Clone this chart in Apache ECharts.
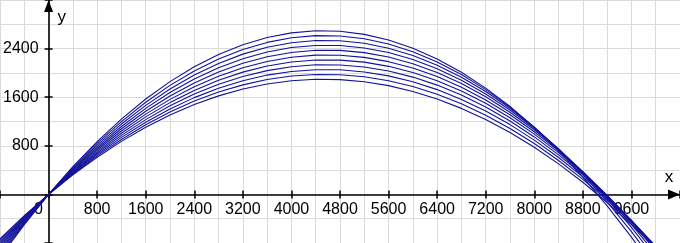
<!DOCTYPE html>
<html>
<head>
<meta charset="utf-8">
<script src="https://cdn.jsdelivr.net/npm/echarts@6/dist/echarts.min.js"></script>
<style>
html,body{margin:0;padding:0;background:#fff;}
#chart{width:680px;height:243px;}
</style>
</head>
<body>
<div id="chart"></div>
<script>
// x positions at which each curve was read
const XS = [-800, -400, 0, 400, 800, 1200, 1600, 2000, 2400, 2800, 3200, 3600, 4000, 4400, 4800, 5200, 5600, 6000, 6400, 6800, 7200, 7600, 8000, 8400, 8800, 9200, 9600, 10000, 10400];
// y values of the eleven curves (lowest arc to highest arc)
const curve40 = [-731, -350, 0, 321, 612, 873, 1105, 1307, 1479, 1622, 1735, 1818, 1872, 1896, 1890, 1855, 1790, 1695, 1570, 1416, 1232, 1018, 775, 502, 200, -133, -495, -886, -1308];
const curve41 = [-757, -363, 0, 332, 634, 905, 1146, 1356, 1536, 1685, 1803, 1891, 1948, 1974, 1970, 1936, 1871, 1775, 1648, 1491, 1304, 1086, 837, 558, 248, -93, -464, -865, -1298];
const curve42 = [-783, -376, 0, 344, 657, 939, 1188, 1406, 1593, 1748, 1872, 1964, 2024, 2053, 2051, 2016, 1951, 1854, 1725, 1564, 1372, 1149, 894, 608, 289, -60, -441, -854, -1298];
const curve43 = [-811, -389, 0, 357, 681, 972, 1231, 1458, 1652, 1813, 1942, 2038, 2102, 2133, 2131, 2097, 2030, 1931, 1799, 1635, 1438, 1208, 946, 651, 324, -36, -428, -853, -1311];
const curve44 = [-840, -403, 0, 369, 705, 1007, 1276, 1511, 1712, 1879, 2013, 2113, 2179, 2212, 2211, 2177, 2108, 2006, 1871, 1702, 1499, 1262, 992, 688, 350, -21, -426, -864, -1337];
const curve45 = [-870, -417, 0, 383, 730, 1043, 1321, 1564, 1773, 1946, 2085, 2189, 2258, 2292, 2291, 2256, 2185, 2080, 1940, 1765, 1555, 1311, 1031, 717, 368, -16, -435, -889, -1377];
const curve46 = [-901, -432, 0, 396, 756, 1080, 1368, 1620, 1835, 2015, 2158, 2266, 2337, 2372, 2371, 2334, 2261, 2152, 2006, 1825, 1607, 1353, 1064, 738, 376, -22, -457, -927, -1433];
const curve47 = [-933, -448, 0, 410, 783, 1118, 1416, 1677, 1899, 2085, 2233, 2344, 2417, 2452, 2451, 2411, 2335, 2220, 2069, 1880, 1653, 1389, 1088, 749, 372, -41, -493, -981, -1507];
const curve48 = [-966, -464, 0, 425, 811, 1158, 1466, 1735, 1965, 2156, 2309, 2422, 2497, 2533, 2529, 2487, 2406, 2286, 2127, 1930, 1693, 1417, 1103, 749, 357, -74, -544, -1053, -1601];
const curve49 = [-1001, -480, 0, 440, 839, 1198, 1517, 1795, 2032, 2229, 2386, 2502, 2578, 2613, 2607, 2562, 2475, 2349, 2181, 1974, 1725, 1437, 1108, 738, 328, -123, -614, -1145, -1717];
const curve50 = [-1038, -498, 0, 456, 869, 1240, 1570, 1856, 2101, 2304, 2464, 2583, 2659, 2693, 2685, 2634, 2542, 2407, 2230, 2011, 1750, 1447, 1101, 713, 283, -189, -703, -1259, -1858];
const CURVES = [curve40, curve41, curve42, curve43, curve44, curve45, curve46, curve47, curve48, curve49, curve50];
// axis ranges and labelled tick step
const X_MIN = -800, X_MAX = 10400, Y_MIN = -800, Y_MAX = 3200, STEP = 800;

const FONT = 'Liberation Sans';
const GRID_COLOR = '#dadada';
const LINE_COLOR = '#12129a';

function labelFmt(max, zeroRich) {
  return function (v) {
    const n = Math.round(Number(v));
    if (n === 0 && zeroRich) return '{z|0}';
    if (n > 0 && n < max && n % STEP === 0) return String(n);
    return '';
  };
}

const splitCommon = {
  splitLine: { show: true, lineStyle: { color: GRID_COLOR, width: 1 } },
  minorTick: { show: false, splitNumber: 2 },
  minorSplitLine: { show: true, lineStyle: { color: GRID_COLOR, width: 1 } }
};

const el = document.getElementById('chart');
const chart = echarts.init(el, null, { renderer: 'canvas' });
const W = chart.getWidth(), H = chart.getHeight();
// where the zero lines fall inside the full-size grid (layout only)
const zeroFromLeft = W * (0 - X_MIN) / (X_MAX - X_MIN);
const zeroFromTop = H * (Y_MAX - 0) / (Y_MAX - Y_MIN);

const tickStyle = { show: true, inside: false, length: 4, lineStyle: { color: '#000', width: 1.5 } };

chart.setOption({
  animation: false,
  backgroundColor: '#ffffff',
  grid: { left: 0, right: 0, top: 0, bottom: 0, containLabel: false, outerBoundsMode: 'none' },
  xAxis: [
    Object.assign({
      type: 'value', min: X_MIN, max: X_MAX, interval: STEP, position: 'bottom', offset: -(H - zeroFromTop),
      name: 'x', nameLocation: 'end', nameGap: -11, nameMoveOverlap: false,
      nameTextStyle: { fontFamily: FONT, fontSize: 17, color: '#000', align: 'center', verticalAlign: 'bottom', padding: [0, 0, 9, 0] },
      axisLine: { show: true, onZero: false, symbol: ['none', 'triangle'], symbolSize: [10, 12], symbolOffset: [0, -6], lineStyle: { color: '#000', width: 1.6 } },
      axisTick: tickStyle,
      axisLabel: { show: true, margin: 7, fontFamily: FONT, fontSize: 16, color: '#000', formatter: labelFmt(X_MAX, true), hideOverlap: false,
        rich: { z: { fontFamily: FONT, fontSize: 16, color: '#000', padding: [0, 20, 0, 0] } } }
    }, splitCommon),
    {
      type: 'value', min: X_MIN, max: X_MAX, interval: STEP, position: 'top', offset: -zeroFromTop,
      axisLine: { show: false, onZero: false },
      axisTick: tickStyle,
      axisLabel: { show: false }, splitLine: { show: false }
    }
  ],
  yAxis: [
    Object.assign({
      type: 'value', min: Y_MIN, max: Y_MAX, interval: STEP, position: 'left', offset: -zeroFromLeft,
      name: 'y', nameLocation: 'end', nameGap: -17, nameMoveOverlap: false,
      nameTextStyle: { fontFamily: FONT, fontSize: 17, color: '#000', align: 'left', verticalAlign: 'middle', padding: [0, 0, 0, 9] },
      axisLine: { show: true, onZero: false, symbol: ['none', 'triangle'], symbolSize: [9, 12], symbolOffset: [0, -6], lineStyle: { color: '#000', width: 1.6 } },
      axisTick: tickStyle,
      axisLabel: { show: true, margin: 10, fontFamily: FONT, fontSize: 16, color: '#000', formatter: labelFmt(Y_MAX, false), hideOverlap: false }
    }, splitCommon),
    {
      type: 'value', min: Y_MIN, max: Y_MAX, interval: STEP, position: 'right', offset: -(W - zeroFromLeft),
      axisLine: { show: false, onZero: false },
      axisTick: tickStyle,
      axisLabel: { show: false }, splitLine: { show: false }
    }
  ],
  series: CURVES.map(function (c) {
    return {
      type: 'line', xAxisIndex: 0, yAxisIndex: 0,
      data: XS.map(function (x, j) { return [x, c[j]]; }),
      showSymbol: false, symbol: 'none', smooth: false, clip: true, silent: true,
      lineStyle: { color: LINE_COLOR, width: 1.1 }, z: 3
    };
  })
});
</script>
</body>
</html>
